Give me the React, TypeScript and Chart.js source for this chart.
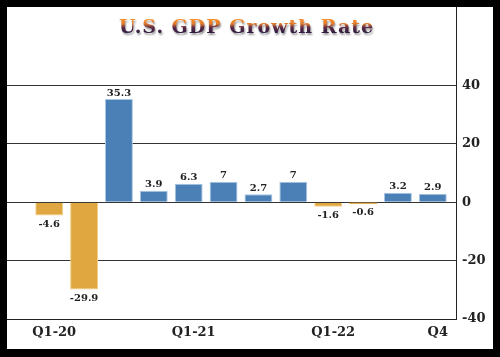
import React, { useEffect, useRef } from "react";
import { Chart, registerables } from "chart.js";

Chart.register(...registerables);

const quarters = [
  "Q1-20", "Q2-20", "Q3-20", "Q4-20",
  "Q1-21", "Q2-21", "Q3-21", "Q4-21",
  "Q1-22", "Q2-22", "Q3-22", "Q4-22",
];
const gdpGrowth = [-4.6, -29.9, 35.3, 3.9, 6.3, 7, 2.7, 7, -1.6, -0.6, 3.2, 2.9];
const xTickIndices = [0, 4, 8, 11];
const xTickLabels = ["Q1-20", "Q1-21", "Q1-22", "Q4"];
const yTicks = [-40, -20, 0, 20, 40];
const titleText = "U.S. GDP Growth Rate";

const BLUE = "#4a80b6";
const BLUE_EDGE = "#a9c7e4";
const ORANGE = "#e0a63f";
const ORANGE_EDGE = "#f2cf85";

const framePlugin = {
  id: "frame",
  beforeDraw(chart: any) {
    const { ctx, width, height } = chart;
    ctx.save();
    ctx.fillStyle = "#000";
    ctx.fillRect(0, 0, width, height);
    ctx.fillStyle = "#fff";
    ctx.fillRect(7, 7, width - 14, height - 15);
    ctx.restore();
  },
};

const titlePlugin = {
  id: "fancyTitle",
  afterDraw(chart: any) {
    const { ctx } = chart;
    const cx = 246.5;
    const base = 33;
    ctx.save();
    ctx.font = "bold 19px 'DejaVu Serif'";
    try {
      (ctx as any).letterSpacing = "1px";
    } catch (e) {}
    ctx.textAlign = "center";
    ctx.textBaseline = "alphabetic";
    const g = ctx.createLinearGradient(0, base - 14, 0, base);
    g.addColorStop(0, "#f8902c");
    g.addColorStop(0.35, "#e27a2c");
    g.addColorStop(0.6, "#5e2c46");
    g.addColorStop(1, "#2c1a40");
    ctx.shadowColor = "rgba(0,0,0,0.4)";
    ctx.shadowOffsetX = 1;
    ctx.shadowOffsetY = 2;
    ctx.shadowBlur = 2;
    ctx.fillStyle = g;
    ctx.fillText(titleText, cx, base);
    ctx.restore();
  },
};

const valueLabelPlugin = {
  id: "valueLabels",
  afterDatasetsDraw(chart: any) {
    const { ctx } = chart;
    const meta = chart.getDatasetMeta(0);
    ctx.save();
    ctx.font = "bold 10px 'DejaVu Serif'";
    ctx.fillStyle = "#222";
    ctx.textAlign = "center";
    meta.data.forEach((bar: any, i: number) => {
      const v = gdpGrowth[i];
      const text = String(v);
      if (v >= 0) {
        ctx.textBaseline = "bottom";
        ctx.fillText(text, bar.x, bar.y - 1);
      } else {
        ctx.textBaseline = "top";
        ctx.fillText(text, bar.x, bar.y + 4);
      }
    });
    ctx.restore();
  },
};

export default function App() {
  const canvasRef = useRef<HTMLCanvasElement | null>(null);

  useEffect(() => {
    if (!canvasRef.current) return;
    const chart = new Chart(canvasRef.current, {
      type: "bar",
      data: {
        datasets: [
          {
            data: gdpGrowth.map((v, i) => ({ x: i, y: v })),
            backgroundColor: gdpGrowth.map((v) => (v < 0 ? ORANGE : BLUE)),
            borderColor: gdpGrowth.map((v) => (v < 0 ? ORANGE_EDGE : BLUE_EDGE)),
            borderWidth: gdpGrowth.map((v) => (Math.abs(v) < 1 ? 0 : 1)),
            barPercentage: 0.8,
            categoryPercentage: 1,
          },
        ],
      },
      options: {
        animation: false,
        responsive: false,
        layout: { padding: { left: 7, top: 7, right: 7, bottom: 8 } },
        plugins: {
          legend: { display: false },
          tooltip: { enabled: false },
          title: { display: false },
        },
        scales: {
          x: {
            type: "linear",
            offset: false,
            min: -1.21,
            max: 11.665,
            grid: { display: false, drawTicks: false },
            border: { display: true, color: "#222", width: 1 },
            afterBuildTicks: (scale: any) => {
              scale.ticks = xTickIndices.map((v) => ({ value: v }));
            },
            afterFit: (scale: any) => {
              scale.height = 30;
              scale.paddingLeft = 0;
              scale.paddingRight = 0;
            },
            ticks: {
              autoSkip: false,
              maxRotation: 0,
              padding: 6,
              labelOffset: 5,
              color: "#222",
              font: { family: "'DejaVu Serif'", size: 13, weight: "bold" },
              callback: (value: any) => {
                const idx = xTickIndices.indexOf(Number(value));
                return idx >= 0 ? xTickLabels[idx] : "";
              },
            },
          },
          y: {
            position: "right",
            min: -40,
            max: 66.8,
            grid: { color: "#333", lineWidth: 1, drawTicks: false },
            border: { display: true, color: "#222", width: 1 },
            afterBuildTicks: (scale: any) => {
              scale.ticks = yTicks.map((v) => ({ value: v }));
            },
            afterFit: (scale: any) => {
              scale.width = 37;
              scale.paddingTop = 0;
              scale.paddingBottom = 0;
            },
            ticks: {
              padding: 6,
              color: "#222",
              font: { family: "'DejaVu Serif'", size: 13, weight: "bold" },
              callback: (value: any) => String(value),
            },
          },
        },
      },
      plugins: [framePlugin, titlePlugin, valueLabelPlugin],
    } as any);
    return () => chart.destroy();
  }, []);

  return (
    <div
      style={{
        position: "fixed",
        left: 0,
        top: 0,
        width: 500,
        height: 357,
        background: "#000",
      }}
    >
      <canvas ref={canvasRef} width={500} height={357} style={{ display: "block" }} />
    </div>
  );
}
